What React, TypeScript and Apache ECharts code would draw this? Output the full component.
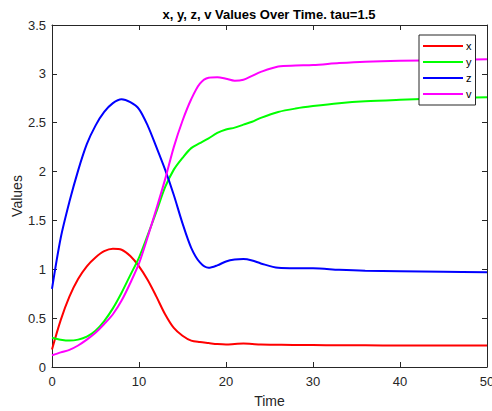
import React, { useEffect, useRef } from "react";
import * as echarts from "echarts";

const time = [0,1,2,3,4,5,6,7,8,9,10,11,12,13,14,15,16,17,18,19,20,21,22,23,24,26,28,30,33,36,40,45,50];
const xVals = [0.18,0.48,0.72,0.90,1.03,1.12,1.185,1.21,1.20,1.135,1.03,0.89,0.72,0.54,0.40,0.32,0.27,0.255,0.245,0.235,0.23,0.235,0.24,0.235,0.23,0.227,0.225,0.225,0.222,0.222,0.22,0.22,0.22];
const yVals = [0.30,0.28,0.27,0.28,0.31,0.37,0.47,0.60,0.76,0.94,1.12,1.35,1.59,1.84,2.02,2.14,2.24,2.29,2.34,2.395,2.43,2.45,2.48,2.51,2.55,2.61,2.645,2.67,2.70,2.72,2.735,2.75,2.76];
const zVals = [0.80,1.32,1.69,2.01,2.28,2.47,2.61,2.70,2.74,2.71,2.64,2.47,2.25,2.02,1.76,1.47,1.22,1.07,1.015,1.04,1.08,1.10,1.105,1.09,1.06,1.015,1.01,1.01,0.995,0.985,0.98,0.975,0.97];
const vVals = [0.12,0.15,0.175,0.22,0.28,0.35,0.44,0.54,0.68,0.86,1.06,1.33,1.62,1.92,2.25,2.52,2.74,2.90,2.96,2.965,2.95,2.93,2.94,2.98,3.02,3.075,3.085,3.09,3.11,3.125,3.135,3.14,3.15];

const seriesNames = ["x", "y", "z", "v"];
const seriesColors = ["#ff0000", "#00ff00", "#0000ff", "#ff00ff"];
const seriesData = [xVals, yVals, zVals, vVals];
const titleText = "x, y, z, v Values Over Time. tau=1.5";

const FONT = "Liberation Sans";
const AX = "#262626";

export default function App() {
  const ref = useRef<HTMLDivElement>(null);
  useEffect(() => {
    const chart = echarts.init(ref.current!, null, { renderer: "svg" });
    const axisCommon = {
      axisLine: { show: true, onZero: false, lineStyle: { color: AX, width: 1 } },
      axisTick: { show: true, inside: true, length: 5, lineStyle: { color: AX } },
      splitLine: { show: false },
    };
    chart.setOption({
      animation: false,
      backgroundColor: "#fff",
      graphic: [
        {
          type: "text",
          x: 269,
          y: 14,
          style: {
            text: titleText,
            fontFamily: FONT,
            fontSize: 13,
            fontWeight: "bold",
            fill: "#000",
            textAlign: "center",
            textVerticalAlign: "middle",
          },
        },
      ],
      legend: {
        orient: "vertical",
        left: 419,
        top: 35,
        width: 57,
        padding: [4, 4, 4, 4],
        borderColor: AX,
        borderWidth: 1,
        backgroundColor: "#fff",
        itemWidth: 40,
        itemHeight: 2,
        itemGap: 2,
        icon: "rect",
        textStyle: { fontFamily: FONT, fontSize: 11, color: "#000", lineHeight: 14, padding: [0, 0, 0, -2] },
        data: seriesNames,
      },
      grid: { left: 52, right: 5, top: 25, bottom: 44, containLabel: false, outerBoundsMode: "none" },
      xAxis: [
        {
          type: "value",
          min: 0,
          max: 50,
          interval: 10,
          name: "Time",
          nameLocation: "middle",
          nameGap: 27,
          nameMoveOverlap: false,
          nameTextStyle: { fontFamily: FONT, fontSize: 14, color: AX },
          axisLabel: { fontFamily: FONT, fontSize: 13, color: AX, margin: 8 },
          ...axisCommon,
        },
        {
          type: "value",
          position: "top",
          min: 0,
          max: 50,
          interval: 10,
          axisLabel: { show: false },
          ...axisCommon,
        },
      ],
      yAxis: [
        {
          type: "value",
          min: 0,
          max: 3.5,
          interval: 0.5,
          name: "Values",
          nameLocation: "middle",
          nameGap: 28,
          nameMoveOverlap: false,
          nameTextStyle: { fontFamily: FONT, fontSize: 14, color: AX },
          axisLabel: { fontFamily: FONT, fontSize: 13, color: AX, margin: 6 },
          ...axisCommon,
        },
        {
          type: "value",
          position: "right",
          min: 0,
          max: 3.5,
          interval: 0.5,
          axisLabel: { show: false },
          ...axisCommon,
        },
      ],
      series: seriesNames.map((n, i) => ({
        name: n,
        type: "line",
        data: time.map((t, j) => [t, seriesData[i][j]]),
        smooth: 0.3,
        showSymbol: false,
        symbol: "none",
        lineStyle: { color: seriesColors[i], width: 2 },
        itemStyle: { color: seriesColors[i] },
        xAxisIndex: 0,
        yAxisIndex: 0,
      })),
    });
    return () => chart.dispose();
  }, []);
  return <div ref={ref} style={{ width: 492, height: 411, position: "absolute", left: 0, top: 0 }} />;
}
